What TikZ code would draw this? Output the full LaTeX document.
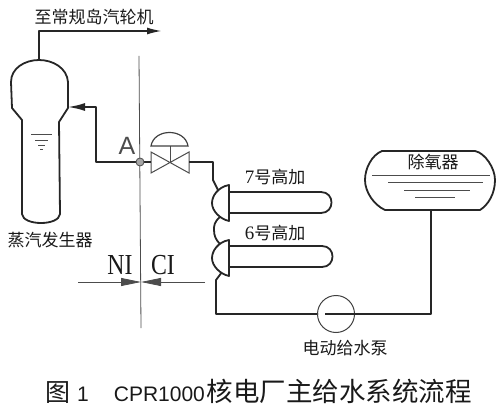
\documentclass[tikz,border=0pt]{standalone}
\usepackage{graphicx}
\usepackage{fontspec}
\setmainfont{Noto Sans CJK SC}
\newfontfamily\latinf{Liberation Serif}
\newfontfamily\capf{Liberation Sans}
\usetikzlibrary{arrows.meta}
\tikzset{
  pipe/.style={line width=1.8pt,draw=black!85,line join=round},
  thinl/.style={line width=0.8pt,draw=black!70},
  lbl/.style={inner sep=0pt,text=black!90},
  flow/.style={-{Latex[length=15pt,width=7pt]}},
}
\begin{document}
\begin{tikzpicture}[x=1pt,y=-1pt]
\useasboundingbox (0,0) rectangle (500,414);
% boundary line
\coordinate (bt) at (139,56);
\coordinate (bb) at (141,328);
\draw[thinl] (bt) -- (bb);
% steam generator
\draw[pipe] (22,214) .. controls (23,226) and (59,226) .. (60,214)
  -- (59,122) -- (68,108) -- (68,82)
  .. controls (67,68) and (53,60) .. (39,60)
  .. controls (25,60) and (11,68) .. (11,82)
  -- (12,108) -- (22,120) -- cycle;
\coordinate (sgtop) at (39,60);
\coordinate (sgin) at (68,107);
\coordinate (turb) at (162,31);
\draw[pipe,flow] (sgtop) -- (39,31) -- (turb);
% water level
\draw[thinl] (31,134) -- (52,134);
\draw[thinl] (35,140) -- (48,140);
\draw[thinl] (38,145) -- (45,145);
\draw[thinl] (40,149) -- (43,149);
% feedwater line to SG
\coordinate (A) at (140,162);
\draw[pipe,-{Latex[length=17pt,width=8pt]}] (A) -- (96,162) -- (96,107) -- (sgin);
% valve
\draw[thinl,line width=1pt,fill=white] (151,152) -- (189,173) -- (189,152) -- (151,173) -- cycle;
\draw[thinl] (170,162) -- (170,146);
\draw[line width=1.2pt,draw=black!75] (151,146) .. controls (154,128) and (185,128) .. (188,146) -- cycle;
\draw[pipe] (A) -- (151,162);
\node[circle,draw=black!70,fill=black!35,line width=0.8pt,minimum size=8pt,inner sep=0pt] (Ac) at (A) {};
\node[lbl,font=\capf\fontsize{25}{25}\selectfont,text=black!70] (Al) at (127,146) {A};
% heaters and their connections
\coordinate (v1) at (213,162);
\draw[pipe] (189,162) -- (v1) -- (213,180) -- (218,190);
\draw[pipe] (220,217) .. controls (214,222) and (214,226) .. (214,230) .. controls (214,236) and (216,240) .. (220,244);
\draw[pipe] (222,272) -- (216,280) -- (216,314) -- (318,314);
% heater 7
\draw[pipe] (229,192) -- (321,192) .. controls (335,192) and (335,213) .. (321,213) -- (229,213);
\draw[pipe,fill=white] (229,185) .. controls (218,187) and (212,196) .. (212,203)
  .. controls (212,211) and (220,219) .. (229,221) -- cycle;
% heater 6
\draw[pipe] (229,246) -- (322,246) .. controls (336,246) and (336,267) .. (322,267) -- (229,267);
\draw[pipe,fill=white] (229,240) .. controls (218,242) and (212,251) .. (212,258)
  .. controls (212,266) and (220,274) .. (229,276) -- cycle;
% pump
\node[circle,draw=black!75,line width=1pt,minimum size=37pt,inner sep=0pt] (pump) at (336,314) {};
\draw[pipe] (325,314) -- (pump.east);
\coordinate (pc) at (431,314);
\draw[pipe] (pump.east) -- (pc) -- (431,211);
% deaerator
\draw[pipe] (382,151) -- (475,151) .. controls (485,153) and (495,168) .. (495,180)
  .. controls (495,194) and (488,205) .. (480,210) -- (385,210)
  .. controls (374,205) and (365,192) .. (365,180)
  .. controls (365,168) and (372,155) .. (382,151) -- cycle;
\draw[thinl] (372,175) -- (490,175);
\draw[thinl,line width=1pt] (388,182) -- (483,182);
\draw[thinl,line width=1pt] (404,190) -- (470,190);
\draw[thinl,line width=1pt] (415,197) -- (455,197);
% NI CI
\coordinate (nil) at (78,282);
\coordinate (cir) at (205,282);
\coordinate (nic) at (141,282);
\draw[thinl,-{Triangle[length=20pt,width=8pt]}] (nil) -- (nic);
\draw[thinl,-{Triangle[length=20pt,width=8pt]}] (cir) -- (nic);
% labels
\node[lbl,font=\latinf\fontsize{29}{29}\selectfont] (ni) at (120,265) {\scalebox{.82}[1]{NI}};
\node[lbl,font=\latinf\fontsize{29}{29}\selectfont] (ci) at (163,265) {\scalebox{.82}[1]{CI}};
\node[lbl,font=\fontsize{17}{17}\selectfont] (t1) at (94,17) {至常规岛汽轮机};
\node[lbl,font=\fontsize{17}{17}\selectfont] (t2) at (50,240) {蒸汽发生器};
\node[lbl,font=\fontsize{17}{17}\selectfont] (h7) at (275,177) {{\latinf\fontsize{19}{19}\selectfont 7}号高加};
\node[lbl,font=\fontsize{17}{17}\selectfont] (h6) at (275,233) {{\latinf\fontsize{19}{19}\selectfont 6}号高加};
\node[lbl,font=\fontsize{17}{17}\selectfont] (da) at (433,162) {除氧器};
\node[lbl,font=\fontsize{17}{17}\selectfont] (pl) at (345,348) {电动给水泵};
\node[lbl,font=\fontsize{26.5}{27}\selectfont,anchor=west] (cap) at (45,391) {\fontsize{25}{25}\selectfont 图\hspace{7pt}{\capf\fontsize{21}{21}\selectfont 1\hspace{25pt}CPR1000}\hspace{2pt}\fontsize{26.5}{27}\selectfont 核电厂主给水系统流程};
\end{tikzpicture}
\end{document}
